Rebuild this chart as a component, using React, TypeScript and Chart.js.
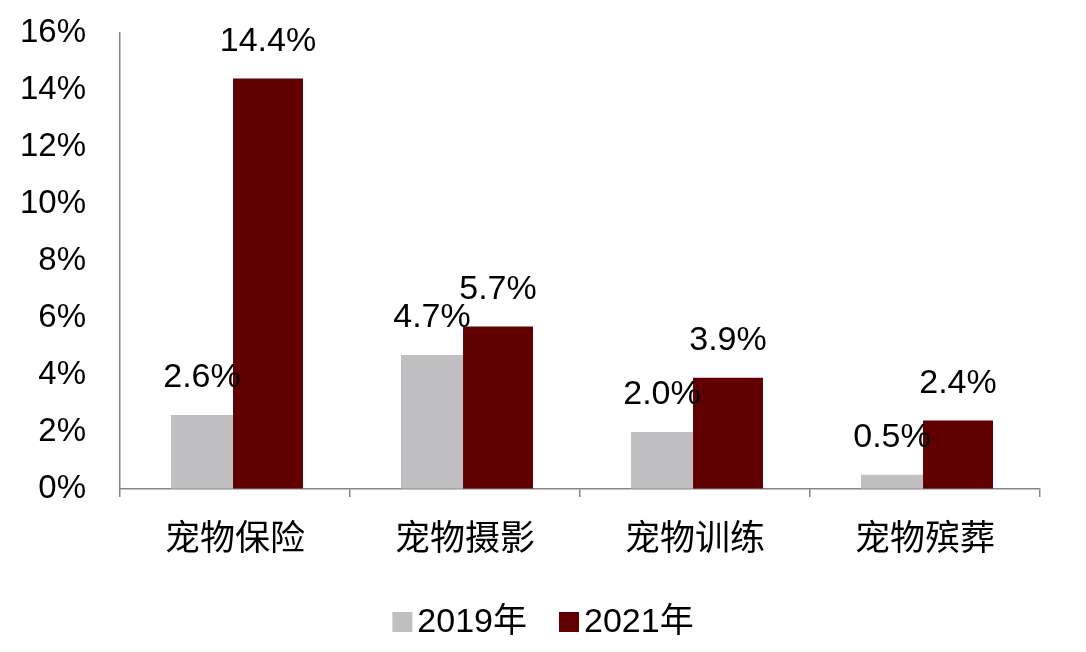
import { useEffect, useRef } from "react";
import { Chart, registerables, type ChartConfiguration, type Plugin } from "chart.js";

Chart.register(...registerables);

const FAMILY = '"Liberation Sans", "Noto Sans CJK SC", sans-serif';
const AXIS = "#868686";

const categories = ["宠物保险", "宠物摄影", "宠物训练", "宠物殡葬"];
const seriesNames = ["2019年", "2021年"];
const values2019 = [2.6, 4.7, 2.0, 0.5];
const values2021 = [14.4, 5.7, 3.9, 2.4];
const seriesColors = ["#C0C0C2", "#600000"];
const yMin = 0;
const yMax = 16;
const yStep = 2;

// value labels above each bar, drawn after all bars so they overlap neighbours
const barLabels: Plugin<"bar"> = {
  id: "barLabels",
  afterDatasetsDraw(chart) {
    const { ctx } = chart;
    ctx.save();
    ctx.font = `34px ${FAMILY}`;
    ctx.fillStyle = "#000";
    ctx.textAlign = "center";
    ctx.textBaseline = "alphabetic";
    chart.data.datasets.forEach((ds, i) => {
      chart.getDatasetMeta(i).data.forEach((bar, j) => {
        const v = ds.data[j] as number;
        ctx.fillText(v.toFixed(1) + "%", bar.x, bar.y - 28);
      });
    });
    ctx.restore();
  },
};

// compact legend centred under the plot
const bottomLegend: Plugin<"bar"> = {
  id: "bottomLegend",
  afterDraw(chart) {
    const { ctx, width } = chart;
    const box = 20;
    const gap = 5;
    const spacing = 32;
    const cy = 622;
    ctx.save();
    ctx.font = `34px ${FAMILY}`;
    ctx.textBaseline = "middle";
    ctx.textAlign = "left";
    const items = chart.data.datasets.map((ds) => ({
      text: ds.label as string,
      color: ds.backgroundColor as string,
      w: ctx.measureText(ds.label as string).width,
    }));
    const total =
      items.reduce((s, it) => s + box + gap + it.w, 0) + spacing * (items.length - 1);
    let x = width / 2 - total / 2;
    items.forEach((it) => {
      ctx.fillStyle = it.color;
      ctx.fillRect(x, cy - box / 2, box, box);
      x += box + gap;
      ctx.fillStyle = "#000";
      ctx.fillText(it.text, x, cy + 1);
      x += it.w + spacing;
    });
    ctx.restore();
  },
};

export default function App() {
  const canvasRef = useRef<HTMLCanvasElement>(null);
  const chartRef = useRef<Chart | null>(null);

  useEffect(() => {
    if (!canvasRef.current) return;
    chartRef.current?.destroy();

    const cfg: ChartConfiguration<"bar"> = {
      type: "bar",
      data: {
        labels: categories,
        datasets: [
          {
            label: seriesNames[0],
            data: values2019,
            backgroundColor: seriesColors[0],
            barPercentage: 0.94,
            categoryPercentage: 0.574,
          },
          {
            label: seriesNames[1],
            data: values2021,
            backgroundColor: seriesColors[1],
            barPercentage: 1.06,
            categoryPercentage: 0.574,
          },
        ],
      },
      options: {
        responsive: true,
        maintainAspectRatio: false,
        animation: false,
        layout: { padding: { top: 33, right: 46, left: 0, bottom: 0 } },
        plugins: {
          legend: { display: false },
          tooltip: { enabled: false },
        },
        scales: {
          x: {
            grid: {
              display: true,
              drawOnChartArea: false,
              drawTicks: true,
              tickLength: 8,
              color: AXIS,
              lineWidth: 1.5,
              offset: true,
            },
            border: { display: true, color: AXIS, width: 1.5 },
            ticks: {
              color: "#000",
              padding: 22,
              font: { family: FAMILY, size: 35 },
            },
            afterFit: (s) => {
              s.height = 163;
            },
          },
          y: {
            min: yMin,
            max: yMax,
            grid: { display: true, drawOnChartArea: false, drawTicks: false },
            border: { display: true, color: AXIS, width: 1.5 },
            ticks: {
              stepSize: yStep,
              color: "#000",
              padding: 34,
              font: { family: FAMILY, size: 33 },
              callback: (v) => `${v}%`,
            },
            afterFit: (s) => {
              s.width = 120;
              s.paddingTop = 0;
              s.paddingBottom = 0;
            },
          },
        },
      },
      plugins: [barLabels, bottomLegend],
    };

    chartRef.current = new Chart(canvasRef.current, cfg);
    return () => {
      chartRef.current?.destroy();
    };
  }, []);

  return (
    <div
      style={{
        position: "absolute",
        left: 0,
        top: 0,
        width: 1086,
        height: 652,
        background: "#fff",
      }}
    >
      <canvas ref={canvasRef} />
    </div>
  );
}
